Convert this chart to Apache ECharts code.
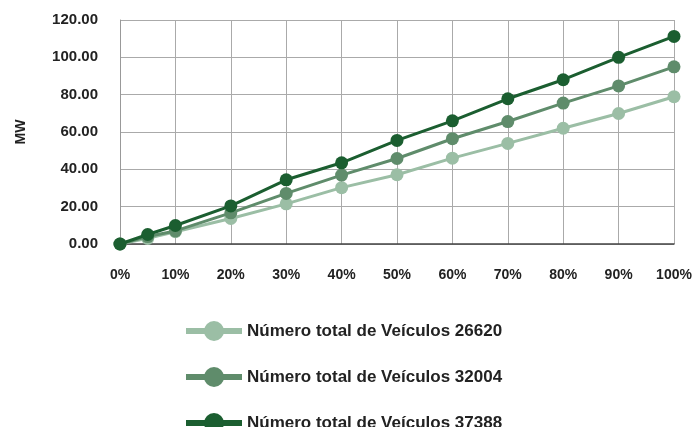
<!DOCTYPE html>
<html>
<head>
<meta charset="utf-8">
<script src="https://cdn.jsdelivr.net/npm/echarts@6/dist/echarts.min.js"></script>
<style>
  html, body { margin: 0; padding: 0; background: #fff; }
  #main { width: 697px; height: 427px; }
</style>
</head>
<body>
<div id="main"></div>
<script>
// percentuais de penetração (eixo x)
var pcts = [0, 5, 10, 20, 30, 40, 50, 60, 70, 80, 90, 100];

var names = [
  'Número total de Veículos 26620',
  'Número total de Veículos 32004',
  'Número total de Veículos 37388'
];

// MW por cenário
var mw26620 = [0, 3, 6.6, 13.7, 21.5, 30.2, 37.1, 46, 53.9, 62, 69.9, 78.9];
var mw32004 = [0, 4, 7, 16.7, 27.1, 36.9, 45.8, 56.4, 65.6, 75.5, 84.7, 94.9];
var mw37388 = [0, 5.1, 9.9, 20.4, 34.4, 43.5, 55.5, 66, 77.8, 88, 100, 111.2];

var colors = ['#9bbea5', '#5f8c6b', '#1b5e30'];

var chart = echarts.init(document.getElementById('main'));

function pairs(vals) {
  return pcts.map(function (p, i) { return [p, vals[i]]; });
}

var font = 'Liberation Sans, Arial, sans-serif';

var option = {
  animation: false,
  color: colors,
  textStyle: { fontFamily: font },
  grid: { left: 120, right: 23, top: 20, bottom: 183 },
  legend: {
    orient: 'vertical',
    left: 178,
    top: 316,
    height: 130,
    itemWidth: 56,
    itemHeight: 25,
    itemGap: 26,
    lineStyle: { width: 6 },
    textStyle: { fontSize: 17, fontWeight: 'bold', color: '#222', fontFamily: font },
    data: names
  },
  xAxis: {
    type: 'value',
    min: 0,
    max: 100,
    interval: 10,
    axisLine: { show: true, lineStyle: { color: '#444', width: 1.5 } },
    axisTick: { show: false },
    axisLabel: {
      formatter: '{value}%',
      margin: 24,
      fontSize: 14,
      fontWeight: 'bold',
      color: '#222'
    },
    splitLine: { show: true, lineStyle: { color: '#aaa', width: 1 } }
  },
  yAxis: {
    type: 'value',
    min: 0,
    max: 120,
    interval: 20,
    name: 'MW',
    nameLocation: 'middle',
    nameRotate: 90,
    nameGap: 92,
    nameTextStyle: { fontSize: 14, fontWeight: 'bold', color: '#222' },
    axisLine: { show: true, lineStyle: { color: '#999' } },
    axisTick: { show: false },
    axisLabel: {
      formatter: function (v) { return v.toFixed(2); },
      margin: 22,
      fontSize: 15,
      fontWeight: 'bold',
      color: '#222'
    },
    splitLine: { show: true, lineStyle: { color: '#aaa', width: 1 } }
  },
  series: [mw26620, mw32004, mw37388].map(function (vals, i) {
    return {
      name: names[i],
      type: 'line',
      data: pairs(vals),
      symbol: 'circle',
      symbolSize: 13,
      lineStyle: { width: 3, color: colors[i] },
      itemStyle: { color: colors[i] },
      z: 2 + i
    };
  })
};

chart.setOption(option);
</script>
</body>
</html>
